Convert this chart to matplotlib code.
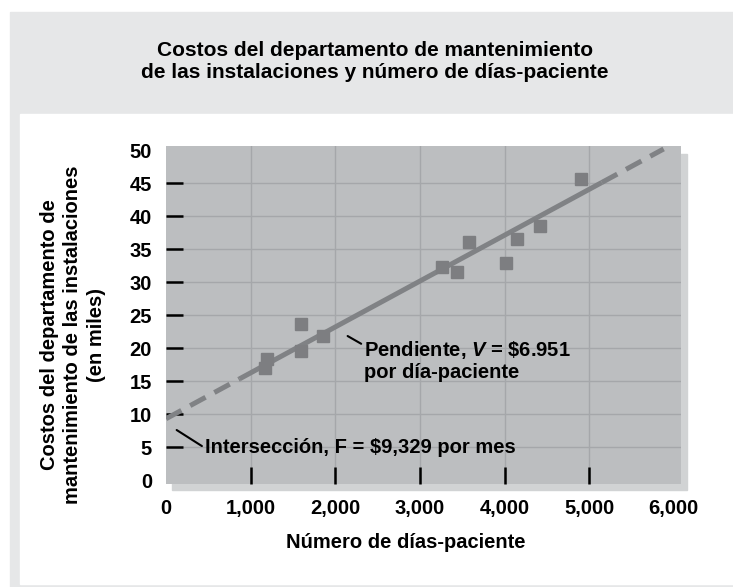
import numpy as np
import matplotlib
matplotlib.use('Agg')
import matplotlib.pyplot as plt
from matplotlib.patches import Rectangle

## datos
dias = [1170, 1189, 1595, 1595, 1855, 3264, 3438, 3583, 4020, 4150, 4418, 4899]
costos = [17.0, 18.4, 19.6, 23.7, 21.9, 32.3, 31.6, 36.1, 32.9, 36.6, 38.6, 45.6]
F = 9.329      # intersección (miles)
V = 6.951      # pendiente por 1,000 días-paciente
tramo_solido = [870, 5150]
tramo_inicio = [0, 870]
tramo_final = [5150, 5880]
xticks = [0, 1000, 2000, 3000, 4000, 5000, 6000]
xticklabels = ['0', '1,000', '2,000', '3,000', '4,000', '5,000', '6,000']
yticks = list(range(0, 55, 5))

plt.rcParams['font.family'] = ['Liberation Sans', 'DejaVu Sans']
plt.rcParams['font.weight'] = 'bold'
plt.rcParams['axes.labelweight'] = 'bold'
plt.rcParams['mathtext.fontset'] = 'custom'
plt.rcParams['mathtext.it'] = 'Liberation Sans:italic:bold'
plt.rcParams['mathtext.rm'] = 'Liberation Sans:bold'

W, H = 733, 587
fig = plt.figure(figsize=(W / 100, H / 100), dpi=100)

## fondos: marco gris, panel blanco, sombra del area de trazado
fig.patches.append(Rectangle((10 / W, 0), (W - 10) / W, (H - 12) / H, transform=fig.transFigure,
                             color='#e6e7e8', zorder=-3))
fig.patches.append(Rectangle((20 / W, 1 - 584 / H), (W - 20) / W, (584 - 114) / H, transform=fig.transFigure,
                             color='white', zorder=-2))
fig.patches.append(Rectangle((172 / W, 1 - 490 / H), 515 / W, 336 / H, transform=fig.transFigure,
                             color='#d1d3d4', zorder=-1))

ax = fig.add_axes([166 / W, 1 - 484 / H, 515 / W, 338 / H])
ax.set_facecolor('#bcbec0')
for s in ax.spines.values():
    s.set_visible(False)

ax.set_xlim(0, 6085)
ax.set_ylim(-0.56, 50.65)

ax.set_xticks(xticks)
ax.set_xticklabels(xticklabels, fontweight='bold')
ax.set_yticks(yticks)
ax.set_yticklabels([str(v) for v in yticks], fontweight='bold')
ax.set_xticks(xticks[1:-1], minor=True)
ax.set_yticks(yticks[1:-1], minor=True)
ax.xaxis.remove_overlapping_locs = False
ax.yaxis.remove_overlapping_locs = False
ax.tick_params(which='major', length=0, labelsize=14.5)
ax.tick_params(axis='x', which='major', pad=11)
ax.tick_params(axis='y', which='major', pad=10)
ax.tick_params(which='minor', direction='in', length=12, width=1.8, color='black')
ax.grid(which='minor', color='#a5a7aa', lw=1)
ax.set_axisbelow(True)

## recta de regresion
x_s = np.array(tramo_solido)
ax.plot(x_s, F + V * x_s / 1000, color='#808285', lw=3.6, solid_capstyle='butt', zorder=3)
for tr in [tramo_inicio, tramo_final]:
    x_d = np.array(tr)
    ax.plot(x_d, F + V * x_d / 1000, color='#808285', lw=3.6, ls=(0, (3.5, 2)),
            dash_capstyle='butt', zorder=3)

ax.plot(dias, costos, 's', color='#7d7e81', markersize=8.6, zorder=4)

## anotaciones
ax.annotate(r'Pendiente, $V$ = \$6.951' + '\npor día-paciente', xy=(2146, 21.86), xytext=(2339, 18.15),
            ha='left', va='center', fontsize=14.5, fontweight='bold', linespacing=1.15,
            arrowprops=dict(arrowstyle='-', lw=1.5, color='black', shrinkA=0, shrinkB=0,
                            relpos=(0, 0.85)))
ax.annotate(r'Intersección, F = \$9,329 por mes', xy=(126, 7.62), xytext=(461, 4.9),
            ha='left', va='center', fontsize=14.5, fontweight='bold',
            arrowprops=dict(arrowstyle='-', lw=1.5, color='black', shrinkA=0, shrinkB=0,
                            relpos=(-0.01, 0.6)))

ax.set_xlabel('Número de días-paciente', fontsize=14.5, fontweight='bold')
ax.xaxis.set_label_coords((406 - 166) / 515, (484 - 542) / 338)
ax.xaxis.label.set_va('center')
ax.set_ylabel('Costos del departamento de\nmantenimiento de las instalaciones\n(en miles)',
              fontsize=14.5, fontweight='bold', linespacing=1.3)
ax.yaxis.set_label_coords((73 - 166) / 515, (484 - 335) / 338)
ax.yaxis.label.set_va('center')

fig.text(375 / W, 1 - 62 / H, 'Costos del departamento de mantenimiento\nde las instalaciones y número de días-paciente',
         ha='center', va='center', fontsize=15, fontweight='bold', linespacing=1.2)

fig.savefig('out.png', dpi=100)
